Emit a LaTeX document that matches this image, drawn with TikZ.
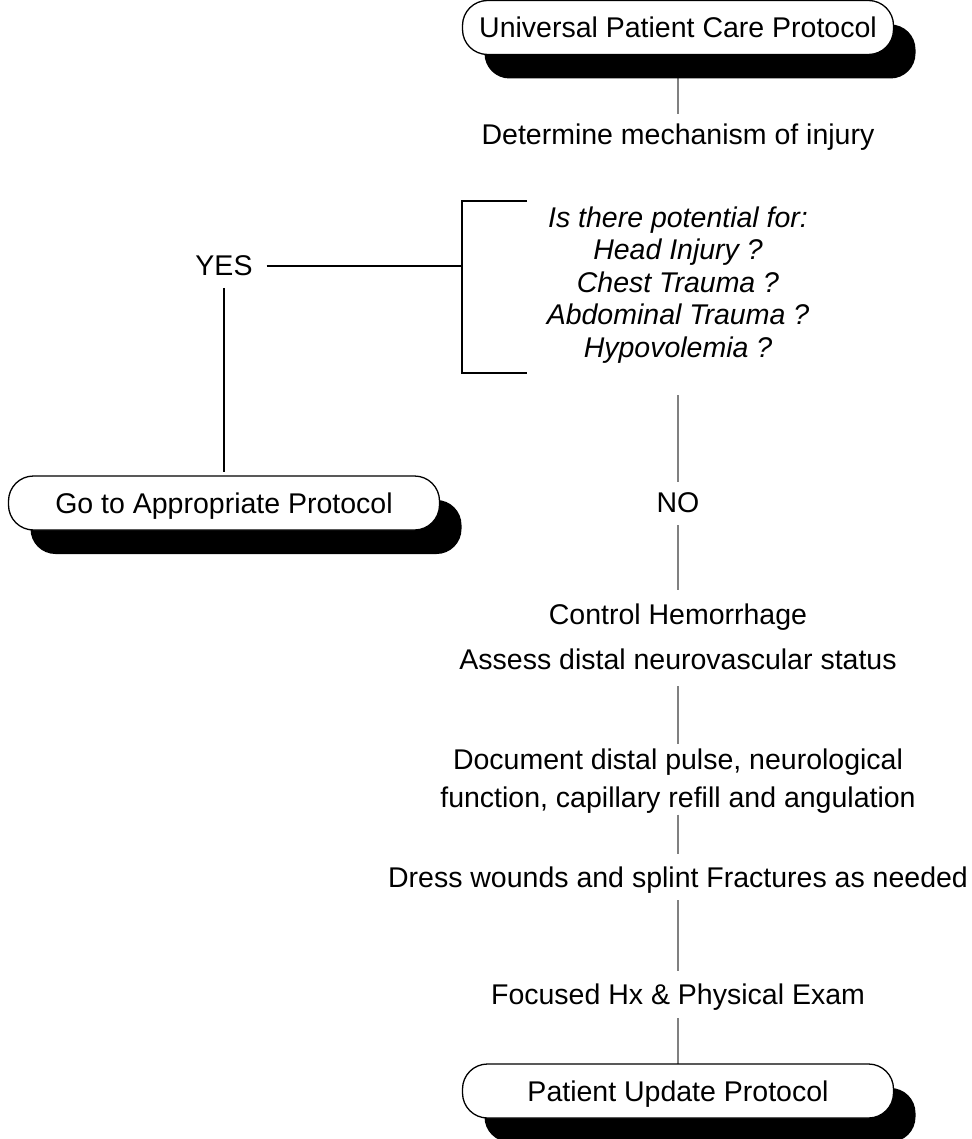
\documentclass[tikz,border=0pt]{standalone}
\usepackage{fontspec}
\setmainfont{Liberation Sans}
\usetikzlibrary{shadows,backgrounds}
\definecolor{conngray}{HTML}{808080}
\begin{document}
\begin{tikzpicture}[x=1pt,y=-1pt,
  every node/.style={inner sep=0pt, outer sep=0pt},
  txt/.style={font=\fontsize{28.5}{34}\selectfont, text height=20.5pt, text depth=0pt},
  mtxt/.style={font=\fontsize{28.5}{#1}\selectfont, align=center},
  term/.style={draw=black, line width=1.3pt, fill=white, rounded corners=25pt,
    minimum width=431pt, minimum height=54pt, font=\fontsize{28.5}{34}\selectfont,
    text height=20.5pt, text depth=0pt,
    general shadow={fill=black, shadow xshift=22pt, shadow yshift=-24pt}},
  conn/.style={draw=conngray, line width=1.8pt},
  blk/.style={draw=black, line width=1.6pt}
]
\useasboundingbox (0,0) rectangle (971,1139);

\node[term] (top) at (678,27.5) {Universal Patient Care Protocol};
\node[txt, anchor=base] (det) at (678,145) {Determine mechanism of injury};

\node[anchor=north, align=center, font=\fontsize{28.5}{32.5}\selectfont\itshape] (q) at (678,206.5)
  {Is there potential for:\\Head Injury ?\\Chest Trauma ?\\Abdominal Trauma ?\\Hypovolemia ?};
\coordinate (qb) at (678,373);

\node[txt, anchor=base] (yes) at (224,276) {YES};
\coordinate (bk) at (462,266);

\node[term] (go) at (224,503) {Go to Appropriate Protocol};

\node[txt, anchor=base] (no) at (678,512) {NO};
\node[mtxt=45, anchor=north] (ctl) at (678,603.5) {Control Hemorrhage\\Assess distal neurovascular status};
\node[mtxt=38, anchor=north] (doc) at (678,749) {Document distal pulse, neurological\\function, capillary refill and angulation};
\node[txt, anchor=base] (dress) at (678,887) {Dress wounds and splint Fractures as needed};
\node[txt, anchor=base] (foc) at (678,1004) {Focused Hx \& Physical Exam};
\node[term] (pup) at (678,1091) {Patient Update Protocol};

% bracket
\draw[blk] (527,201) -- (462,201) -- (462,373) -- (527,373);
\draw[blk, shorten <=14pt] (yes.east) -- (yes.east -| bk);
\draw[blk, shorten <=12pt, shorten >=4pt] (yes.south) -- (go.north);

\begin{scope}[on background layer]
  \fill[white] (0,0) rectangle (971,1139);
  \draw[conn, shorten >=10.5pt] (top.south) -- (det.north);
  \draw[conn, shorten <=22pt, shorten >=9.5pt] (qb) -- (no.north);
  \draw[conn, shorten <=13pt, shorten >=13.5pt] (no.south) -- (ctl.north);
  \draw[conn, shorten <=17pt, shorten >=5pt] (ctl.south) -- (doc.north);
  \draw[conn, shorten <=1pt, shorten >=12.5pt] (doc.south) -- (dress.north);
  \draw[conn, shorten <=13pt, shorten >=12.5pt] (dress.south) -- (foc.north);
  \draw[conn, shorten <=14pt] (foc.south) -- (pup.north);
\end{scope}
\end{tikzpicture}
\end{document}
